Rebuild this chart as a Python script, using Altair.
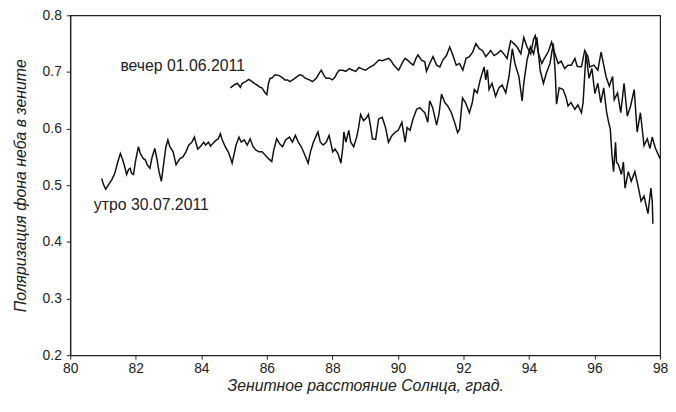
import altair as alt
import pandas as pd

# утро 30.07.2011
morning_x = [80.96, 81.01, 81.08, 81.18, 81.27, 81.36, 81.45, 81.53, 81.60, 81.66, 81.72, 81.78, 81.83, 81.87, 81.93, 81.99,
             82.08, 82.14, 82.23, 82.29, 82.35, 82.43, 82.50, 82.58, 82.65, 82.71, 82.78, 82.86, 82.92, 82.98,
             83.04, 83.14, 83.23, 83.29, 83.35, 83.44, 83.53, 83.62, 83.71, 83.79, 83.83, 83.89, 83.98,
             84.07, 84.13, 84.22, 84.28, 84.37, 84.46, 84.52, 84.58, 84.64, 84.73, 84.82, 84.88, 84.94,
             85.00, 85.06, 85.15, 85.22, 85.31, 85.40, 85.49, 85.58, 85.67, 85.76, 85.85, 85.94,
             86.05, 86.15, 86.21, 86.30, 86.39, 86.48, 86.57, 86.69, 86.78, 86.87, 86.96,
             87.05, 87.14, 87.26, 87.33, 87.42, 87.51, 87.56, 87.63, 87.72, 87.81, 87.90,
             88.01, 88.08, 88.17, 88.26, 88.32, 88.35, 88.41, 88.50, 88.56, 88.65, 88.74, 88.80, 88.86, 88.95,
             89.04, 89.10, 89.17, 89.22, 89.32, 89.41, 89.52, 89.62, 89.71, 89.82, 89.92,
             90.01, 90.12, 90.16, 90.22, 90.28, 90.37, 90.46, 90.57, 90.67, 90.75, 90.82, 90.91, 90.97,
             91.06, 91.18, 91.25, 91.33, 91.43, 91.52, 91.63, 91.73, 91.82, 91.88, 91.97,
             92.06, 92.18, 92.27, 92.33, 92.42, 92.51, 92.63, 92.68, 92.73, 92.78, 92.87, 92.98,
             93.08, 93.18, 93.29, 93.39, 93.49, 93.57, 93.69, 93.79, 93.84, 93.94,
             94.04, 94.14, 94.24, 94.34, 94.44, 94.53, 94.64, 94.74, 94.80, 94.84, 94.92,
             95.04, 95.13, 95.19, 95.28, 95.40, 95.49, 95.60, 95.65, 95.74, 95.83, 95.92,
             96.01, 96.10, 96.19, 96.28, 96.37, 96.43, 96.48, 96.53, 96.58, 96.64, 96.67, 96.73, 96.82, 96.88, 96.93,
             97.03, 97.12, 97.23, 97.33, 97.42, 97.51, 97.63, 97.72, 97.76, 97.78]
morning_y = [0.512, 0.502, 0.493, 0.502, 0.510, 0.521, 0.541, 0.556, 0.545, 0.533, 0.519, 0.528, 0.530, 0.521, 0.519, 0.542,
             0.568, 0.556, 0.547, 0.545, 0.536, 0.530, 0.550, 0.565, 0.545, 0.524, 0.507, 0.542, 0.568, 0.580,
             0.568, 0.559, 0.536, 0.542, 0.547, 0.550, 0.559, 0.571, 0.576, 0.585, 0.576, 0.564, 0.569,
             0.576, 0.571, 0.576, 0.569, 0.575, 0.580, 0.582, 0.591, 0.580, 0.568, 0.559, 0.550, 0.539,
             0.555, 0.571, 0.585, 0.576, 0.580, 0.571, 0.582, 0.568, 0.562, 0.559, 0.559, 0.554,
             0.547, 0.542, 0.562, 0.582, 0.573, 0.568, 0.580, 0.585, 0.576, 0.588, 0.576,
             0.568, 0.556, 0.539, 0.559, 0.576, 0.588, 0.594, 0.576, 0.571, 0.576, 0.588,
             0.559, 0.564, 0.556, 0.539, 0.568, 0.594, 0.576, 0.597, 0.576, 0.568, 0.585, 0.602, 0.625, 0.614,
             0.619, 0.625, 0.602, 0.582, 0.581, 0.617, 0.620, 0.602, 0.576, 0.588, 0.594,
             0.597, 0.611, 0.597, 0.576, 0.602, 0.597, 0.617, 0.634, 0.637, 0.632, 0.628, 0.611, 0.649,
             0.637, 0.606, 0.625, 0.661, 0.646, 0.640, 0.628, 0.611, 0.593, 0.599, 0.654,
             0.646, 0.628, 0.646, 0.669, 0.663, 0.686, 0.709, 0.686, 0.704, 0.669, 0.680, 0.657,
             0.672, 0.677, 0.663, 0.692, 0.741, 0.715, 0.692, 0.649, 0.680, 0.721,
             0.744, 0.732, 0.761, 0.703, 0.680, 0.698, 0.715, 0.750, 0.698, 0.643, 0.672,
             0.669, 0.655, 0.640, 0.646, 0.634, 0.642, 0.628, 0.646, 0.733, 0.689, 0.706,
             0.662, 0.680, 0.646, 0.672, 0.628, 0.611, 0.599, 0.554, 0.524, 0.576, 0.541, 0.536, 0.519, 0.541, 0.495,
             0.524, 0.507, 0.524, 0.498, 0.472, 0.481, 0.450, 0.495, 0.472, 0.432]

# вечер 01.06.2011
evening_x = [84.89, 85.00, 85.10, 85.19, 85.25, 85.35, 85.45, 85.55, 85.64, 85.70, 85.79, 85.85, 85.95,
             86.00, 86.05, 86.10, 86.15, 86.25, 86.36, 86.45, 86.55, 86.63, 86.70, 86.81, 86.90,
             87.00, 87.08, 87.17, 87.30, 87.39, 87.51, 87.60, 87.66, 87.75, 87.81, 87.91,
             88.00, 88.08, 88.14, 88.21, 88.32, 88.41, 88.51, 88.62, 88.71, 88.81, 88.92,
             89.01, 89.13, 89.26, 89.35, 89.42, 89.53, 89.62, 89.72, 89.80, 89.86, 89.92,
             90.02, 90.10, 90.16, 90.22, 90.31, 90.40, 90.47, 90.55, 90.61, 90.72, 90.82, 90.87, 90.97,
             91.07, 91.18, 91.28, 91.37, 91.48, 91.58, 91.68, 91.78, 91.88, 91.98,
             92.08, 92.18, 92.28, 92.38, 92.48, 92.58, 92.68, 92.75, 92.83, 92.93,
             93.02, 93.14, 93.24, 93.33, 93.44, 93.54, 93.64, 93.75, 93.84, 93.94,
             94.05, 94.14, 94.19, 94.29, 94.39, 94.47, 94.59, 94.69, 94.79, 94.89, 94.98,
             95.09, 95.19, 95.29, 95.40, 95.47, 95.55, 95.60, 95.70, 95.80, 95.85, 95.98,
             96.10, 96.20, 96.28, 96.35, 96.45, 96.55, 96.60, 96.70, 96.80, 96.90,
             97.00, 97.10, 97.21, 97.30, 97.40, 97.51, 97.61, 97.69, 97.76, 97.86, 98.00]
evening_y = [0.672, 0.677, 0.680, 0.673, 0.680, 0.683, 0.687, 0.683, 0.679, 0.677, 0.673, 0.672, 0.663,
             0.660, 0.680, 0.689, 0.689, 0.695, 0.694, 0.691, 0.686, 0.686, 0.683, 0.687, 0.691,
             0.695, 0.694, 0.689, 0.686, 0.683, 0.689, 0.698, 0.703, 0.693, 0.689, 0.689,
             0.686, 0.691, 0.698, 0.703, 0.703, 0.701, 0.706, 0.703, 0.701, 0.708, 0.705,
             0.703, 0.708, 0.712, 0.717, 0.721, 0.720, 0.722, 0.724, 0.719, 0.713, 0.709,
             0.703, 0.712, 0.719, 0.724, 0.720, 0.715, 0.712, 0.724, 0.730, 0.721, 0.718, 0.701, 0.715,
             0.727, 0.712, 0.709, 0.721, 0.729, 0.744, 0.729, 0.712, 0.715, 0.703,
             0.724, 0.727, 0.735, 0.750, 0.741, 0.738, 0.727, 0.732, 0.738, 0.729,
             0.732, 0.738, 0.731, 0.724, 0.755, 0.750, 0.744, 0.732, 0.761, 0.744,
             0.732, 0.758, 0.764, 0.732, 0.715, 0.724, 0.736, 0.753, 0.732, 0.715, 0.719,
             0.706, 0.712, 0.712, 0.724, 0.710, 0.709, 0.709, 0.738, 0.727, 0.709, 0.712,
             0.703, 0.735, 0.712, 0.692, 0.675, 0.692, 0.651, 0.663, 0.628, 0.680,
             0.622, 0.640, 0.669, 0.594, 0.628, 0.570, 0.582, 0.565, 0.585, 0.565, 0.547]

label_text = ["вечер 01.06.2011", "утро 30.07.2011"]
label_x = [81.53, 80.72]
label_y = [0.710, 0.465]

rows = []
for i, (x, y) in enumerate(zip(morning_x, morning_y)):
    rows.append({"series": "утро", "i": i, "x": x, "y": y})
for i, (x, y) in enumerate(zip(evening_x, evening_y)):
    rows.append({"series": "вечер", "i": i, "x": x, "y": y})
df = pd.DataFrame(rows)
labels = pd.DataFrame({"t": label_text, "x": label_x, "y": label_y})

FONT = "Liberation Sans"
INK = "#222222"

xscale = alt.Scale(domain=[80, 98], nice=False, zero=False)
yscale = alt.Scale(domain=[0.2, 0.8], nice=False, zero=False)

lines = alt.Chart(df).mark_line(color="#111111", strokeWidth=1.5).encode(
    x=alt.X("x:Q", scale=xscale,
            axis=alt.Axis(title="Зенитное расстояние Солнца, град.", values=list(range(80, 99, 2)),
                          format="d", grid=False, tickSize=4, labelPadding=3, labelFlush=False,
                          titlePadding=2)),
    y=alt.Y("y:Q", scale=yscale,
            axis=alt.Axis(title="Поляризация фона неба в зените", values=[0.2, 0.3, 0.4, 0.5, 0.6, 0.7, 0.8],
                          format=".1f", grid=False, tickSize=4, labelPadding=5, labelFlush=False,
                          titlePadding=14)),
    detail="series:N",
    order="i:Q",
)

texts = alt.Chart(labels).mark_text(align="left", baseline="middle", font=FONT, fontSize=16,
                                    color=INK).encode(
    x=alt.X("x:Q", scale=xscale),
    y=alt.Y("y:Q", scale=yscale),
    text="t:N",
)

chart = (lines + texts).properties(
    width=597, height=344,
    padding={"left": 63, "top": 5, "right": 8, "bottom": 47},
    autosize="none",
    background="white",
).configure_view(stroke="#222222", strokeWidth=1.2).configure_axis(
    domainColor=INK, tickColor=INK, labelColor=INK, titleColor=INK,
    domainWidth=1.2, tickWidth=1,
    labelFont=FONT, titleFont=FONT, labelFontSize=14, titleFontSize=16,
    titleFontStyle="italic", titleFontWeight="normal",
)

chart.save("out.html", embed_options={"renderer": "svg", "actions": False})
